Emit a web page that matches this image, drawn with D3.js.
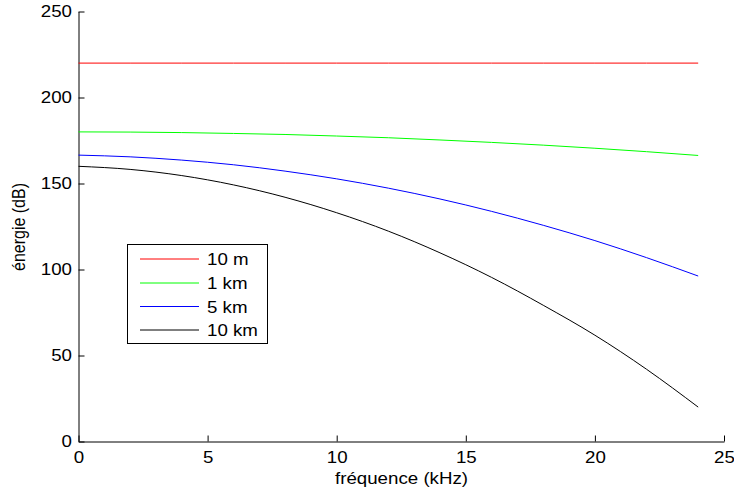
<!DOCTYPE html>
<html><head><meta charset="utf-8">
<script src="https://cdn.jsdelivr.net/npm/d3@7"></script>
<style>
body{margin:0;background:#fff}
text{font-family:"Liberation Sans",Arial,Helvetica,sans-serif;fill:#000}
</style></head>
<body><svg id="c" width="734" height="488"></svg>
<script>
// ---- data ----
const freq = [0, 2, 4, 6, 8, 10, 12, 14, 16, 18, 20, 22, 24];
const energy10m = [220, 220, 220, 220, 220, 220, 220, 220, 220, 220, 220, 220, 220];
const energy1km = [180, 179.9, 179.6, 179.1, 178.5, 177.6, 176.6, 175.3, 173.9, 172.3, 170.5, 168.5, 166.3];
const energy5km = [166.5, 165.5, 163.6, 160.9, 157.2, 152.7, 147.3, 141.0, 133.8, 125.7, 116.8, 106.9, 96.2];
const energy10km = [160, 158.2, 154.6, 149.2, 142.0, 133.0, 122.3, 109.7, 95.4, 79.2, 61.8, 42, 20];
const seriesNames = ["10 m", "1 km", "5 km", "10 km"];
const seriesColors = ["#ff0000", "#00ff00", "#0000ff", "#000000"];
const xTicks = [0, 5, 10, 15, 20, 25];
const yTicks = [0, 50, 100, 150, 200, 250];
const xLabel = "fréquence (kHz)";
const yLabel = "énergie (dB)";

const allSeries = [energy10m, energy1km, energy5km, energy10km];
const SX = 1.17; // horizontal stretch of the text in the picture

const svg = d3.select("#c");
const x = d3.scaleLinear().domain([0, 25]).range([78.5, 724]);
const y = d3.scaleLinear().domain([0, 250]).range([441.5, 11.5]);

// axes
const gx = svg.append("g").attr("transform", "translate(0,441.5)")
  .call(d3.axisBottom(x).tickValues(xTicks).tickFormat(d3.format("d"))
    .tickSizeInner(-6).tickSizeOuter(0).tickPadding(10));
const gy = svg.append("g").attr("transform", "translate(78.5,0)")
  .call(d3.axisLeft(y).tickValues(yTicks).tickFormat(d3.format("d"))
    .tickSizeInner(-6).tickSizeOuter(0).tickPadding(6.5));
[gx, gy].forEach(g => {
  g.selectAll("path,line").attr("stroke", "#000").attr("stroke-width", 1);
  g.selectAll("text").attr("font-size", 16).attr("font-family", null);
});
gx.selectAll("text").attr("transform", `scale(${SX},1)`);
gy.selectAll("text").attr("x", -6.5 / SX).attr("transform", `scale(${SX},1)`);

// lines
const line = d3.line().x((d, i) => x(freq[i])).y(d => y(d)).curve(d3.curveMonotoneX);
allSeries.forEach((s, k) => {
  svg.append("path").datum(s).attr("d", line)
    .attr("fill", "none").attr("stroke", seriesColors[k]).attr("stroke-width", 1);
});

// axis labels
svg.append("text").attr("transform", `translate(401.5,484) scale(${SX},1)`)
  .attr("text-anchor", "middle").attr("font-size", 16).text(xLabel);
svg.append("text").attr("transform", `translate(25,227) rotate(-90) scale(1,${SX})`)
  .attr("text-anchor", "middle").attr("font-size", 16).text(yLabel);

// legend
const lg = svg.append("g");
lg.append("rect").attr("x", 127.5).attr("y", 244.5).attr("width", 140).attr("height", 99)
  .attr("fill", "#fff").attr("stroke", "#000").attr("stroke-width", 1);
const rowsY = [259, 283, 306.5, 330];
seriesNames.forEach((n, k) => {
  lg.append("line").attr("x1", 140).attr("x2", 199).attr("y1", rowsY[k]).attr("y2", rowsY[k])
    .attr("stroke", seriesColors[k]).attr("stroke-width", 1);
  lg.append("text").attr("transform", `translate(207,${rowsY[k] + 6}) scale(${SX},1)`)
    .attr("font-size", 16).text(n);
});
</script></body></html>
